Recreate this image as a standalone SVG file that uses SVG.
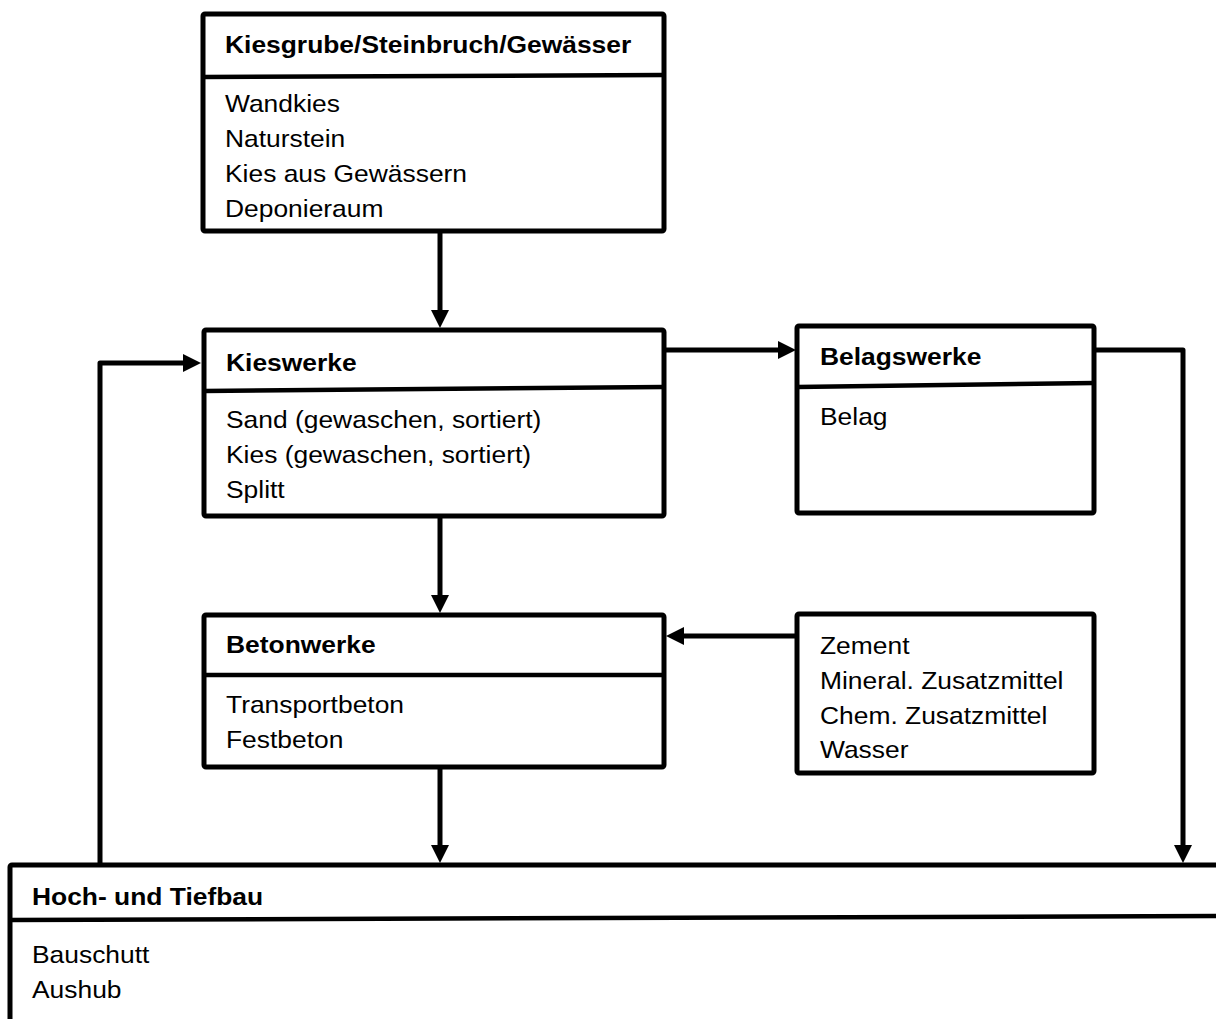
<svg xmlns="http://www.w3.org/2000/svg" width="1216" height="1019" viewBox="0 0 1216 1019">
<style>
.box{fill:#fff;stroke:#000;stroke-width:5;stroke-linejoin:round}
.div{stroke:#000;stroke-width:4.5;fill:none}
.t{font-family:"Liberation Sans",Arial,sans-serif;font-size:24px;fill:#000}
.b{font-weight:bold}
.con{fill:none;stroke:#000;stroke-width:5;stroke-linejoin:round}
</style>
<defs>
<marker id="ah" markerUnits="userSpaceOnUse" markerWidth="18" markerHeight="18" refX="8" refY="9" orient="auto">
<path d="M0,0 L18,9 L0,18 z" fill="#000"/>
</marker>
</defs>
<rect width="1216" height="1019" fill="#fff"/>
<g id="connectors">
<path class="con" d="M440,232 V318" marker-end="url(#ah)"/>
<path class="con" d="M664,350 H786" marker-end="url(#ah)"/>
<path class="con" d="M1094,350 H1183 V853" marker-end="url(#ah)"/>
<path class="con" d="M100,865 V363 H191" marker-end="url(#ah)"/>
<path class="con" d="M440,516 V603" marker-end="url(#ah)"/>
<path class="con" d="M797,636 H676" marker-end="url(#ah)"/>
<path class="con" d="M440,768 V853" marker-end="url(#ah)"/>
</g>
<g id="kiesgrube">
<rect class="box" x="203" y="14" width="461" height="217" rx="2"/>
<line class="div" x1="203" y1="77" x2="664" y2="75"/>
<text class="t b" transform="translate(225,53) scale(1.1,1)">Kiesgrube/Steinbruch/Gewässer</text>
<text class="t" transform="translate(225,112) scale(1.1,1)"><tspan x="0" y="0">Wandkies</tspan><tspan x="0" y="35">Naturstein</tspan><tspan x="0" y="70">Kies aus Gewässern</tspan><tspan x="0" y="105">Deponieraum</tspan></text>
</g>
<g id="kieswerke">
<rect class="box" x="204" y="330" width="460" height="186" rx="2"/>
<line class="div" x1="204" y1="391" x2="664" y2="387"/>
<text class="t b" transform="translate(226,371) scale(1.1,1)">Kieswerke</text>
<text class="t" transform="translate(226,428) scale(1.1,1)"><tspan x="0" y="0">Sand (gewaschen, sortiert)</tspan><tspan x="0" y="35">Kies (gewaschen, sortiert)</tspan><tspan x="0" y="70">Splitt</tspan></text>
</g>
<g id="belagswerke">
<rect class="box" x="797" y="326" width="297" height="187" rx="2"/>
<line class="div" x1="797" y1="387" x2="1094" y2="383"/>
<text class="t b" transform="translate(820,365) scale(1.1,1)">Belagswerke</text>
<text class="t" transform="translate(820,425) scale(1.1,1)">Belag</text>
</g>
<g id="betonwerke">
<rect class="box" x="204" y="615" width="460" height="152" rx="2"/>
<line class="div" x1="204" y1="675" x2="664" y2="675"/>
<text class="t b" transform="translate(226,653) scale(1.1,1)">Betonwerke</text>
<text class="t" transform="translate(226,713) scale(1.1,1)"><tspan x="0" y="0">Transportbeton</tspan><tspan x="0" y="35">Festbeton</tspan></text>
</g>
<g id="zusatz">
<rect class="box" x="797" y="614" width="297" height="159" rx="2"/>
<text class="t" transform="translate(820,654) scale(1.1,1)"><tspan x="0" y="0">Zement</tspan><tspan x="0" y="35">Mineral. Zusatzmittel</tspan><tspan x="0" y="70">Chem. Zusatzmittel</tspan><tspan x="0" y="104">Wasser</tspan></text>
</g>
<g id="hochtiefbau">
<rect class="box" x="10" y="865" width="1240" height="200" rx="2"/>
<line class="div" x1="10" y1="920" x2="1216" y2="916"/>
<text class="t b" transform="translate(32,905) scale(1.1,1)">Hoch- und Tiefbau</text>
<text class="t" transform="translate(32,963) scale(1.1,1)"><tspan x="0" y="0">Bauschutt</tspan><tspan x="0" y="35">Aushub</tspan></text>
</g>
</svg>
